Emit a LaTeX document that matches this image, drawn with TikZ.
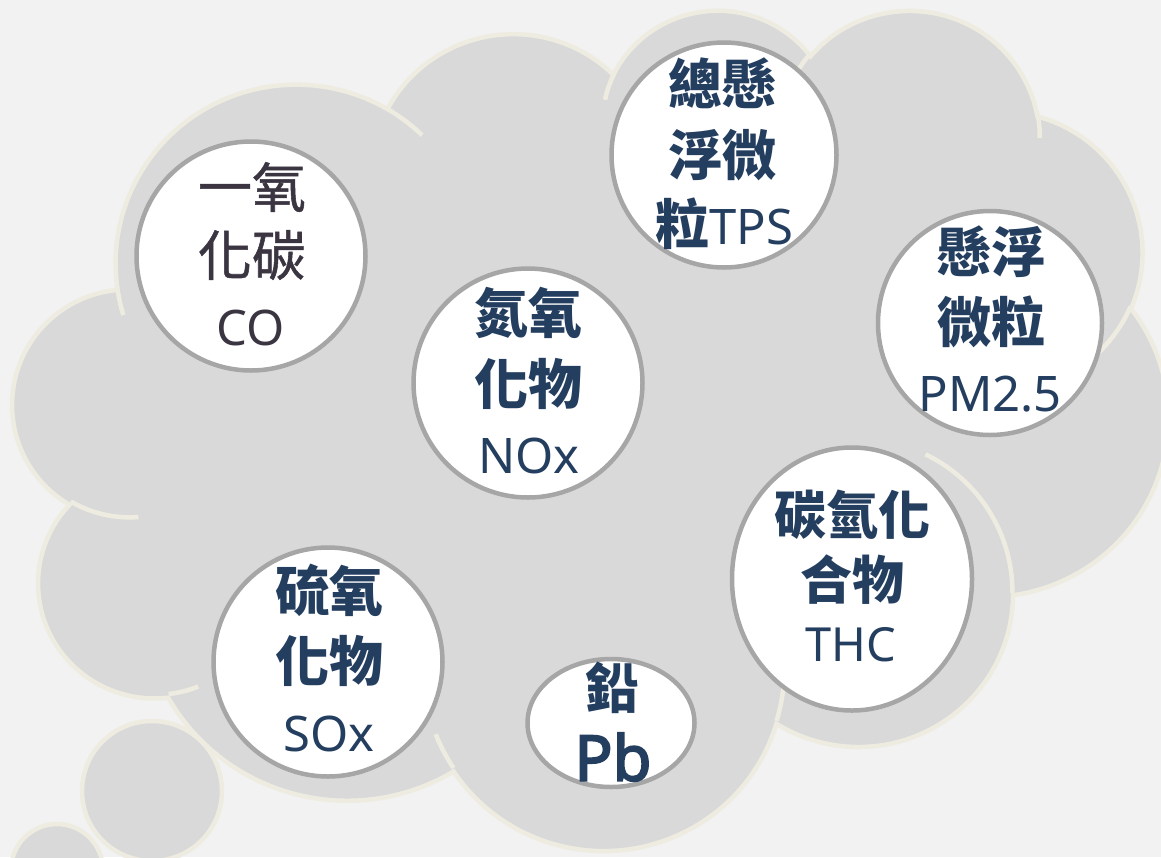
\documentclass[tikz,border=0pt]{standalone}
\usepackage{fontspec}
\usetikzlibrary{shapes.geometric}
\newfontfamily\cjk{Noto Sans CJK TC}
\newfontfamily\cjkm[FakeBold=1]{Noto Sans CJK TC}
\newfontfamily\lat{Noto Sans}
\newfontfamily\latb[FakeBold=3]{Noto Sans}
\definecolor{bgc}{HTML}{F2F2F2}
\definecolor{cloudfill}{HTML}{D9D9D9}
\definecolor{cloudline}{HTML}{EEECE1}
\definecolor{ringc}{HTML}{A6A6A6}
\definecolor{txtblue}{HTML}{243E60}
\definecolor{txtgrey}{HTML}{3B3541}
% convert OOXML visual arc angles to parametric TikZ angles
\newcommand\ooang[5]{%
  \pgfmathsetmacro\ooTa{atan2((#2)*sin(#4),(#3)*cos(#4))}%
  \pgfmathsetmacro\ooTb{atan2((#2)*sin((#4)+(#5)),(#3)*cos((#4)+(#5)))}%
  \pgfmathsetmacro\ooTb{\ooTb+360*round((\ooTa+(#5)-\ooTb)/360)}%
  \expandafter\xdef\csname ooS#1\endcsname{\ooTa}%
  \expandafter\xdef\csname ooE#1\endcsname{\ooTb}%
}
\begin{document}
\begin{tikzpicture}[x=1pt,y=-1pt,
  cloudpath/.style={fill=cloudfill,draw=cloudline,line width=4.5pt},
  innerarc/.style={draw=cloudline,line width=4.5pt},
  bubble/.style={circle,fill=cloudfill,draw=cloudline,line width=4.5pt,inner sep=0pt},
  disc/.style={circle,fill=white,draw=ringc,line width=4.5pt,inner sep=0pt},
  oval/.style={ellipse,fill=white,draw=ringc,line width=4.5pt,inner sep=0pt},
  cjb/.style={font=\cjk\bfseries\fontsize{54}{54}\selectfont,text=txtblue,inner sep=0pt},
  cjr/.style={font=\cjkm\fontsize{54}{54}\selectfont,text=txtgrey,inner sep=0pt},
  lt/.style={font=\lat\fontsize{49}{49}\selectfont,text=txtblue,inner sep=0pt}]
\fill[bgc] (0,0) rectangle (1161,857);
\useasboundingbox (0,0) rectangle (1161,857);
\clip (0,0) rectangle (1161,857);
% outer arcs
\ooang{a}{6.753}{9.190}{-190.487483}{123.780533}
\ooang{b}{5.333}{7.267}{-144.102383}{89.945233}
\ooang{c}{4.365}{5.945}{-145.807917}{99.723017}
\ooang{d}{4.857}{6.595}{-130.986067}{117.241733}
\ooang{e}{5.333}{7.273}{-78.708883}{109.026917}
\ooang{f}{6.775}{9.220}{-46.26725}{130.269}
\ooang{g}{5.785}{7.867}{0.625017}{114.033333}
\ooang{h}{6.752}{9.215}{22.4516}{115.17255}
\ooang{i}{7.720}{10.543}{66.242633}{75.711017}
\ooang{j}{4.360}{5.918}{-274.942083}{146.735567}
\ooang{k}{4.345}{5.945}{-246.8285}{152.51885}
% inner arcs
\ooang{ia}{4.345}{5.945}{86.742}{26.4295}
\ooang{ib}{4.360}{5.918}{73.610467}{11.447467}
\ooang{ic}{6.752}{9.215}{137.62415}{14.0811}
\ooang{id}{6.752}{9.215}{6.453267}{15.99835}
\ooang{ie}{5.785}{7.867}{-70.29235}{70.917367}
\ooang{if}{5.333}{7.273}{30.318033}{27.7515}
\ooang{ig}{4.857}{6.595}{-13.744333}{14.853417}
\ooang{ih}{4.857}{6.595}{-149.18145}{18.195883}
\ooang{ii}{4.365}{5.945}{-163.494267}{19.001617}
\ooang{ij}{6.753}{9.190}{-66.70695}{12.31935}
\ooang{ik}{6.753}{9.190}{157.65435}{11.858167}
\begin{scope}[shift={(13,8)},x=26.7361pt,y=-19.4444pt]
\draw[cloudpath] (3.9,14.37)
  arc[x radius=6.753,y radius=9.190,start angle=\ooSa,end angle=\ooEa]
  arc[x radius=5.333,y radius=7.267,start angle=\ooSb,end angle=\ooEb]
  arc[x radius=4.365,y radius=5.945,start angle=\ooSc,end angle=\ooEc]
  arc[x radius=4.857,y radius=6.595,start angle=\ooSd,end angle=\ooEd]
  arc[x radius=5.333,y radius=7.273,start angle=\ooSe,end angle=\ooEe]
  arc[x radius=6.775,y radius=9.220,start angle=\ooSf,end angle=\ooEf]
  arc[x radius=5.785,y radius=7.867,start angle=\ooSg,end angle=\ooEg]
  arc[x radius=6.752,y radius=9.215,start angle=\ooSh,end angle=\ooEh]
  arc[x radius=7.720,y radius=10.543,start angle=\ooSi,end angle=\ooEi]
  arc[x radius=4.360,y radius=5.918,start angle=\ooSj,end angle=\ooEj]
  arc[x radius=4.345,y radius=5.945,start angle=\ooSk,end angle=\ooEk]
  -- cycle;
\draw[innerarc]
  (4.693,26.177) arc[x radius=4.345,y radius=5.945,start angle=\ooSia,end angle=\ooEia]
  (6.928,34.899) arc[x radius=4.360,y radius=5.918,start angle=\ooSib,end angle=\ooEib]
  (16.478,39.090) arc[x radius=6.752,y radius=9.215,start angle=\ooSic,end angle=\ooEic]
  (28.827,34.751) arc[x radius=6.752,y radius=9.215,start angle=\ooSid,end angle=\ooEid]
  (34.129,22.954) arc[x radius=5.785,y radius=7.867,start angle=\ooSie,end angle=\ooEie]
  (41.798,15.354) arc[x radius=5.333,y radius=7.273,start angle=\ooSif,end angle=\ooEif]
  (38.324,5.426) arc[x radius=4.857,y radius=6.595,start angle=\ooSig,end angle=\ooEig]
  (29.078,3.952) arc[x radius=4.857,y radius=6.595,start angle=\ooSih,end angle=\ooEih]
  (22.141,4.720) arc[x radius=4.365,y radius=5.945,start angle=\ooSii,end angle=\ooEii]
  (14.000,5.192) arc[x radius=6.753,y radius=9.190,start angle=\ooSij,end angle=\ooEij]
  (4.127,15.789) arc[x radius=6.753,y radius=9.190,start angle=\ooSik,end angle=\ooEik];
\end{scope}
% thought bubbles
\node[bubble,minimum size=140pt] (bub1) at (152,791) {};
\node[bubble,minimum size=92pt] (bub2) at (57,870) {};
% discs
\node[disc,minimum size=229pt] (co) at (251,256) {};
\node[disc,minimum size=229pt] (nox) at (528,383) {};
\node[disc,minimum size=225pt] (tps) at (724,155) {};
\node[disc,minimum size=224pt] (pm) at (990,323) {};
\node[oval,minimum width=240pt,minimum height=263pt] (thc) at (852,579) {};
\node[disc,minimum size=229pt] (sox) at (328,662) {};
\node[oval,minimum width=167pt,minimum height=128pt] (pb) at (611,723) {};
% texts
\node[cjr] (co1) at (252,187) {一氧};
\node[cjr] (co2) at (252,255) {化碳};
\node[lt,text=txtgrey] (co3) at (251,328) {CO};
\node[cjb] (nox1) at (528,313) {氮氧};
\node[cjb] (nox2) at (528,384) {化物};
\node[lt] (nox3) at (529,456) {NOx};
\node[cjb] (tps1) at (722,83) {總懸};
\node[cjb] (tps2) at (722,155) {浮微};
\node[inner sep=0pt] (tps3) at (724,224) {\textcolor{txtblue}{\cjk\bfseries\fontsize{54}{54}\selectfont 粒}\textcolor{txtblue}{\lat\fontsize{49}{49}\selectfont TPS}};
\node[cjb] (pm1) at (991,252) {懸浮};
\node[cjb] (pm2) at (991,322) {微粒};
\node[lt] (pm3) at (990,394) {PM2.5};
\node[cjb,font=\cjk\bfseries\fontsize{52}{52}\selectfont] (thc1) at (852,515) {碳氫化};
\node[cjb,font=\cjk\bfseries\fontsize{52}{52}\selectfont] (thc2) at (852,580) {合物};
\node[lt,font=\lat\fontsize{47}{47}\selectfont] (thc3) at (851,645) {THC};
\node[cjb] (sox1) at (329,590) {硫氧};
\node[cjb] (sox2) at (329,661) {化物};
\node[lt] (sox3) at (329,734) {SOx};
\node[cjb] (pb1) at (612,688) {鉛};
\node[lt,font=\latb\fontsize{63}{63}\selectfont] (pb2) at (613,757) {Pb};
\end{tikzpicture}
\end{document}
